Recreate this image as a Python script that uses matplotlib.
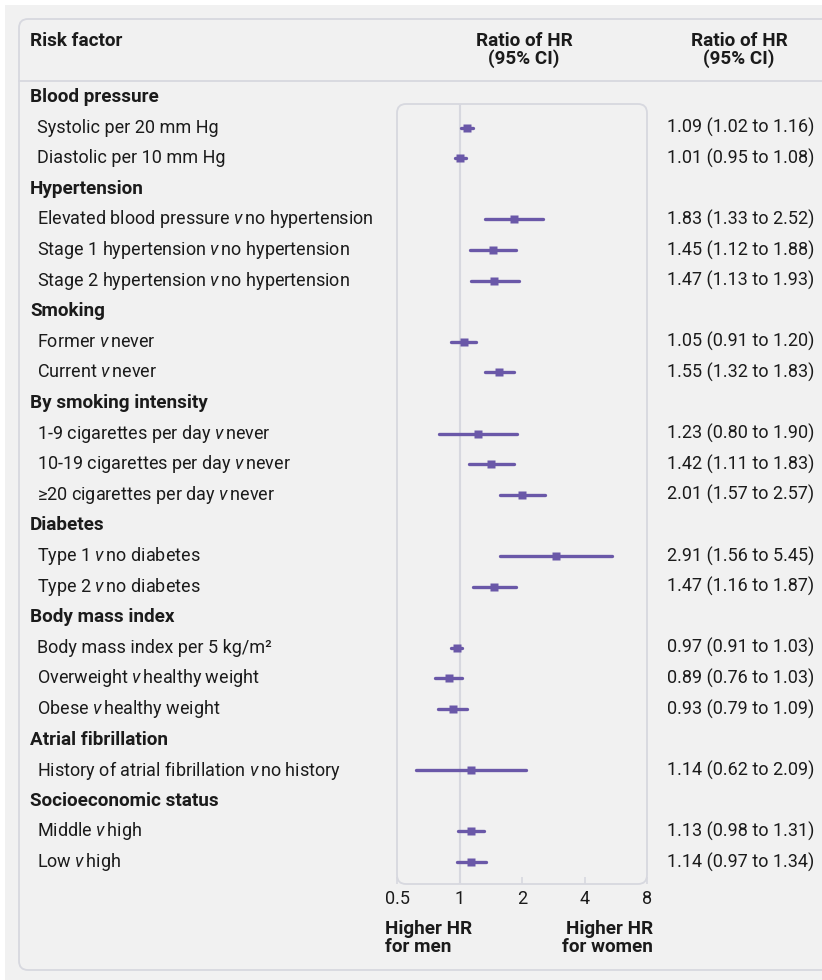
import matplotlib
matplotlib.use("Agg")
import matplotlib.pyplot as plt
from matplotlib.patches import FancyBboxPatch, Rectangle
from matplotlib import transforms

plt.rcParams['font.family'] = ['Roboto', 'DejaVu Sans']
plt.rcParams['mathtext.fontset'] = 'custom'
plt.rcParams['mathtext.rm'] = 'Roboto'
plt.rcParams['mathtext.it'] = 'Roboto:italic'

V = "$\\mathit{v}\\,$"  # italic "versus"

# risk factor groups and the rows under each one
groups = ["Blood pressure", "Hypertension", "Smoking", "By smoking intensity",
          "Diabetes", "Body mass index", "Atrial fibrillation", "Socioeconomic status"]
group_rows = [
    ["Systolic per 20 mm Hg", "Diastolic per 10 mm Hg"],
    [f"Elevated blood pressure {V}no hypertension",
     f"Stage 1 hypertension {V}no hypertension",
     f"Stage 2 hypertension {V}no hypertension"],
    [f"Former {V}never", f"Current {V}never"],
    [f"1-9 cigarettes per day {V}never",
     f"10-19 cigarettes per day {V}never",
     f"≥20 cigarettes per day {V}never"],
    [f"Type 1 {V}no diabetes", f"Type 2 {V}no diabetes"],
    ["Body mass index per 5 kg/m²", f"Overweight {V}healthy weight",
     f"Obese {V}healthy weight"],
    [f"History of atrial fibrillation {V}no history"],
    [f"Middle {V}high", f"Low {V}high"],
]

# ratio of hazard ratios with 95% CI, in row order
ratio = [1.09, 1.01, 1.83, 1.45, 1.47, 1.05, 1.55, 1.23, 1.42, 2.01,
         2.91, 1.47, 0.97, 0.89, 0.93, 1.14, 1.13, 1.14]
ci_low = [1.02, 0.95, 1.33, 1.12, 1.13, 0.91, 1.32, 0.80, 1.11, 1.57,
          1.56, 1.16, 0.91, 0.76, 0.79, 0.62, 0.98, 0.97]
ci_high = [1.16, 1.08, 2.52, 1.88, 1.93, 1.20, 1.83, 1.90, 1.83, 2.57,
           5.45, 1.87, 1.03, 1.03, 1.09, 2.09, 1.31, 1.34]

xticks = [0.5, 1, 2, 4, 8]
xtick_labels = ["0.5", "1", "2", "4", "8"]

PURPLE = "#6a58a8"
BORDER = "#d7d8df"
BG = "#f1f1f1"
TXT = "#1b1b1b"
FS = 13      # body text
FSB = 13.6   # bold headings

W, H = 822, 980
fig = plt.figure(figsize=(W / 100, H / 100), dpi=100)
fig.patch.set_facecolor("white")

# page layer in pixel units
bg = fig.add_axes([0, 0, 1, 1])
bg.set_xlim(0, W)
bg.set_ylim(H, 0)
bg.axis("off")
bg.add_patch(Rectangle((5, 5), W, H, facecolor=BG, edgecolor="none"))
bg.add_patch(FancyBboxPatch((19, 19), W + 20, 951,
                            boxstyle="round,pad=0,rounding_size=9",
                            facecolor=BG, edgecolor=BORDER, lw=1.3))
bg.plot([19, W], [81, 81], color=BORDER, lw=1.3)

# plotting box
box_l, box_r, box_t, box_b = 397, 647, 104, 884
bg.add_patch(FancyBboxPatch((box_l, box_t), box_r - box_l, box_b - box_t,
                            boxstyle="round,pad=0,rounding_size=9",
                            facecolor="none", edgecolor=BORDER, lw=1.3))

# header
bg.text(30, 41, "Risk factor", fontsize=FSB, fontweight="bold", color=TXT,
        va="center", ha="left")
bg.text(524, 50, "Ratio of HR\n(95% CI)", fontsize=FSB, fontweight="bold",
        color=TXT, va="center", ha="center", linespacing=1.0)
bg.text(739, 50, "Ratio of HR\n(95% CI)", fontsize=FSB, fontweight="bold",
        color=TXT, va="center", ha="center", linespacing=1.0)

# forest axes: one unit per table row
row0, step = 97, 30.6
ax = fig.add_axes([box_l / W, 1 - box_b / H, (box_r - box_l) / W, (box_b - box_t) / H])
ax.set_xscale("log", base=2)
ax.set_xlim(0.5, 8)
ax.set_ylim((box_b - row0) / step, (box_t - row0) / step)
ax.patch.set_alpha(0)
for s in ax.spines.values():
    s.set_visible(False)
ax.set_yticks([])
ax.set_xticks(xticks)
ax.set_xticklabels(xtick_labels)
ax.minorticks_off()
ax.tick_params(axis="x", direction="in", length=5, width=1.2, color=BORDER,
               pad=4, labelsize=FS, labelcolor=TXT)
ax.axvline(1, color=BORDER, lw=1.5, zorder=1)

trans = transforms.blended_transform_factory(bg.transData, ax.transData)

row = 0
k = 0
for g, items in zip(groups, group_rows):
    ax.text(30, row, g, transform=trans, fontsize=FSB, fontweight="bold",
            color=TXT, va="center", ha="left")
    row += 1
    for label in items:
        ax.text(37, row, label, transform=trans, fontsize=FS, color=TXT,
                va="center", ha="left")
        ax.plot([ci_low[k], ci_high[k]], [row, row], color=PURPLE, lw=2.4,
                solid_capstyle="round", zorder=3)
        ax.plot(ratio[k], row, marker="s", ms=6.2, color=PURPLE, mec="none",
                zorder=4)
        ax.text(667, row, f"{ratio[k]:.2f} ({ci_low[k]:.2f} to {ci_high[k]:.2f})",
                transform=trans, fontsize=FS, color=TXT, va="center", ha="left")
        row += 1
        k += 1

# direction labels under the axis
bg.text(385, 938, "Higher HR\nfor men", fontsize=FSB, fontweight="bold",
        color=TXT, va="center", ha="left", linespacing=1.0)
bg.text(653, 938, "Higher HR\nfor women", fontsize=FSB, fontweight="bold",
        color=TXT, va="center", ha="right", linespacing=1.0)

fig.savefig("out.png", dpi=100, facecolor="white")
